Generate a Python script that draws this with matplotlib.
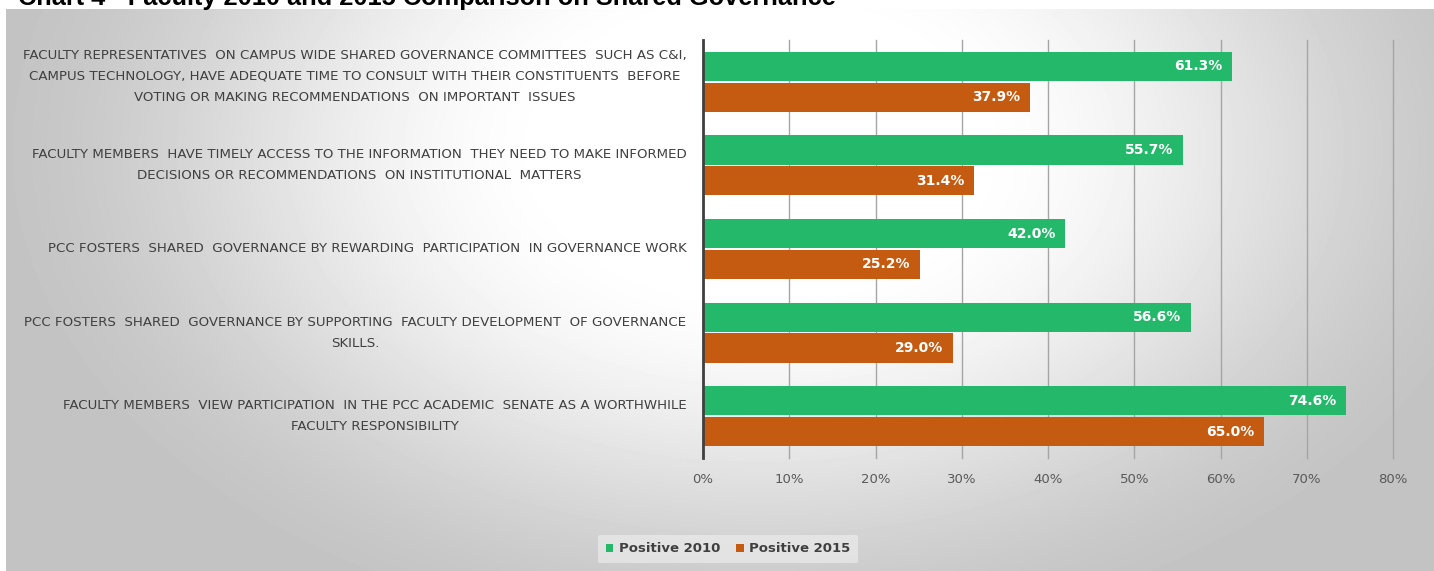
import numpy as np
import matplotlib
matplotlib.use("Agg")
import matplotlib.pyplot as plt
import matplotlib.transforms as mtransforms

# Data
categories = [
    "FACULTY REPRESENTATIVES  ON CAMPUS WIDE SHARED GOVERNANCE COMMITTEES  SUCH AS C&I,\n"
    "CAMPUS TECHNOLOGY, HAVE ADEQUATE TIME TO CONSULT WITH THEIR CONSTITUENTS  BEFORE\n"
    "VOTING OR MAKING RECOMMENDATIONS  ON IMPORTANT  ISSUES",
    "FACULTY MEMBERS  HAVE TIMELY ACCESS TO THE INFORMATION  THEY NEED TO MAKE INFORMED\n"
    "DECISIONS OR RECOMMENDATIONS  ON INSTITUTIONAL  MATTERS",
    "PCC FOSTERS  SHARED  GOVERNANCE BY REWARDING  PARTICIPATION  IN GOVERNANCE WORK",
    "PCC FOSTERS  SHARED  GOVERNANCE BY SUPPORTING  FACULTY DEVELOPMENT  OF GOVERNANCE\n"
    "SKILLS.",
    "FACULTY MEMBERS  VIEW PARTICIPATION  IN THE PCC ACADEMIC  SENATE AS A WORTHWHILE\n"
    "FACULTY RESPONSIBILITY",
]
positive_2010 = [61.3, 55.7, 42.0, 56.6, 74.6]
positive_2015 = [37.9, 31.4, 25.2, 29.0, 65.0]
series_names = ["Positive 2010", "Positive 2015"]
x_ticks = [0, 10, 20, 30, 40, 50, 60, 70, 80]

GREEN = "#24b96a"
ORANGE = "#c55a11"
FONT = ["DejaVu Sans"]

W, H = 1434, 571
fig = plt.figure(figsize=(W / 100, H / 100), dpi=100)

# radial gradient background
bg = fig.add_axes([0, 0, 1, 1], zorder=-10)
bg.set_xlim(0, W)
bg.set_ylim(H, 0)
bg.axis("off")
xx, yy = np.meshgrid(np.arange(6, W), np.arange(9, H))
d = np.sqrt(((xx - 760) / 760.0) ** 2 + ((yy - 150) / 500.0) ** 2)
t = np.clip((d - 0.25) / 0.8, 0, 1)
t = t * t * (3 - 2 * t)
val = 1.0 - 0.235 * t
bg.imshow(val, cmap="gray", vmin=0, vmax=1, extent=(6, W, H, 9),
          aspect="auto", interpolation="bilinear")

ax = fig.add_axes([703 / W, 1 - 458 / H, 690 / W, 418 / H])
ax.set_facecolor("none")

y = np.arange(len(categories))
h = 0.35
off = 0.185
b1 = ax.barh(y - off, positive_2010, height=h, color=GREEN, label=series_names[0], zorder=3)
b2 = ax.barh(y + off, positive_2015, height=h, color=ORANGE, label=series_names[1], zorder=3)

for bars in (b1, b2):
    for r in bars:
        v = r.get_width()
        ax.annotate(f"{v:.1f}%", (v, r.get_y() + r.get_height() / 2),
                    xytext=(-7, 0), textcoords="offset points",
                    ha="right", va="center", color="white", fontsize=10,
                    fontweight="bold", family=FONT, zorder=4)

ax.set_xlim(0, 80)
ax.set_ylim(len(categories) - 0.5, -0.5)
ax.set_xticks(x_ticks)
ax.set_xticklabels([f"{v}%" for v in x_ticks], family=FONT, fontsize=9.5, color="#595959")
ax.set_yticks(y)
ax.set_yticklabels(categories, family=FONT, fontsize=9.6, color="#404040",
                   multialignment="center", linespacing=1.8)
ax.tick_params(axis="y", length=0, pad=12)
ax.tick_params(axis="x", length=0, pad=11)
for lab in ax.get_yticklabels():
    lab.set_va("center")
# the three-line label sits a little higher in the original
first = ax.yaxis.get_major_ticks()[0].label1
first.set_transform(mtransforms.offset_copy(first.get_transform(), fig=fig, y=4, units="points"))

ax.grid(axis="x", color="#a5a5a5", linewidth=1, zorder=0)
for gl in ax.get_xgridlines():
    gl.set_clip_on(False)
for s in ["top", "right", "bottom"]:
    ax.spines[s].set_visible(False)
ax.spines["left"].set_color("#404040")
ax.spines["left"].set_linewidth(2)
ax.spines["left"].set_zorder(5)

leg = fig.legend(handles=[b1, b2], loc="center", bbox_to_anchor=(728 / W, 1 - 549 / H),
                 ncol=2, frameon=True, handlelength=0.6, handleheight=0.6,
                 handletextpad=0.4, columnspacing=1.2, borderpad=0.6,
                 prop={"family": FONT, "weight": "bold", "size": 9.5})
leg.get_frame().set_facecolor("#f0f0f0")
leg.get_frame().set_edgecolor("none")
leg.get_frame().set_alpha(0.6)
for txt in leg.get_texts():
    txt.set_color("#404040")

fig.text(18 / W, 1 - 5 / H, "Chart 4 - Faculty 2010 and 2015 Comparison on Shared Governance",
         ha="left", va="baseline", fontsize=18.3, fontweight="bold", color="black",
         family=["Liberation Sans", "DejaVu Sans"])

fig.savefig("out.png", dpi=100)
